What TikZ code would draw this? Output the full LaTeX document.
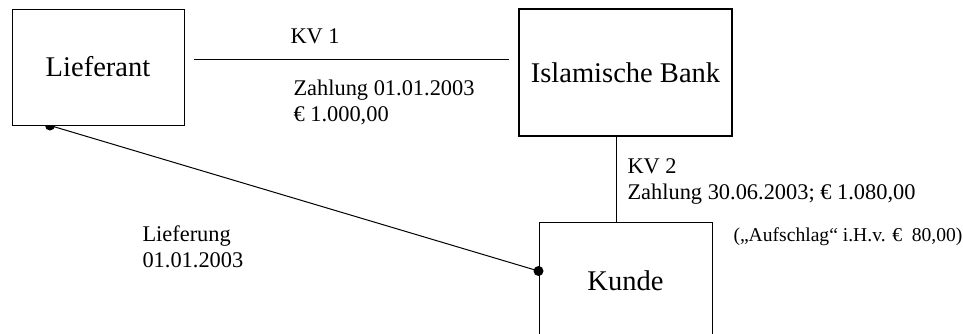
\documentclass[tikz,border=0pt]{standalone}
\usepackage{fontspec}
\setmainfont{Liberation Serif}
\begin{document}
\begin{tikzpicture}[x=0.75pt,y=-0.75pt,line width=0.75pt]
  \tikzstyle{party}=[draw,inner sep=0pt,font=\fontsize{21.4}{25}\selectfont]
  \tikzstyle{lbl}=[anchor=base west,inner sep=0pt,align=left,font=\fontsize{16.8}{19.5}\selectfont]
  \clip (0,0) rectangle (963,333);

  \node[party,minimum width=129pt,minimum height=87pt] (lief) at (98,67) {Lieferant};
  \node[party,line width=1.5pt,minimum width=159.75pt,minimum height=95.25pt] (bank) at (625.5,72.5) {Islamische Bank};
  \node[party,minimum width=129.75pt,minimum height=88.5pt] (kunde) at (625.5,281) {Kunde};

  % two-line labels sit on their last baseline
  \node[lbl] (kv1) at (290,43.3) {KV 1};
  \node[lbl] (pay1) at (293,121.7) {Zahlung 01.01.2003\\€ 1.000,00};
  \node[lbl] (kv2) at (627,199) {KV 2\\Zahlung 30.06.2003; € 1.080,00};
  \node[lbl] (deliv) at (142,267.7) {Lieferung\\01.01.2003};
  \node[lbl,font=\fontsize{14.7}{17}\selectfont] (surcharge) at (733,241.7) {(„Aufschlag“ i.H.v. €~ 80,00)};

  \coordinate (d1) at ([xshift=-36pt]lief.south);
  \coordinate (d2) at ([yshift=7.5pt]kunde.west);

  \draw[shorten <=6.75pt,shorten >=6.75pt] ([yshift=6pt]lief.east) -- ([yshift=6pt]lief.east -| bank.west);
  \draw ([xshift=-7pt]bank.south) -- ([xshift=-7pt]bank.south |- kunde.north);
  \draw (d1) -- (d2);
  \fill (d2) circle (3.75pt);
  \fill (d1) ++(-3.75pt,0) arc[start angle=180,end angle=360,radius=3.75pt] -- cycle;
\end{tikzpicture}
\end{document}
